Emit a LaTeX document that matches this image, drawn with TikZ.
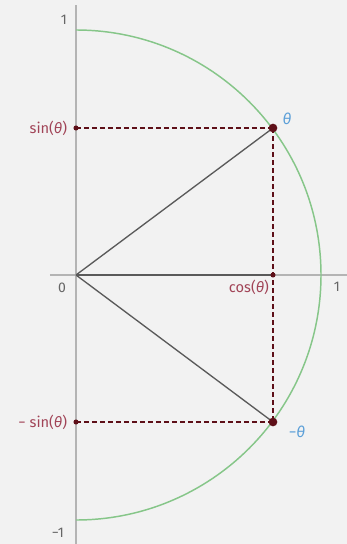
\documentclass[tikz,border=0pt]{standalone}
\usepackage{fontspec}
\setmainfont{Fira Sans}
\usetikzlibrary{calc, positioning, backgrounds}
\definecolor{paper}{HTML}{F2F2F2}
\definecolor{leaf}{HTML}{86C689}
\definecolor{wine}{HTML}{5E0F18}
\definecolor{rosewood}{HTML}{A14457}
\definecolor{sky}{HTML}{5B9FD8}
\definecolor{slate}{HTML}{5A5A5A}
\definecolor{ash}{HTML}{B4B4B4}

\begin{document}
\begin{tikzpicture}[
  x=0.75pt, y=0.75pt,
  axis/.style={draw=ash, line width=0.8pt},
  ray/.style={draw=slate, line width=1pt},
  guide/.style={draw=wine, line width=1.2pt, dash pattern=on 3.4pt off 2.6pt},
  bigdot/.style={circle, fill=wine, inner sep=0pt, minimum size=6.5pt},
  smalldot/.style={circle, fill=wine, inner sep=0pt, minimum size=3.8pt},
  ticklabel/.style={text=black!60, font=\fontsize{10.5}{12}\selectfont},
  trig/.style={text=rosewood, font=\fontsize{11}{13}\selectfont},
  anglelabel/.style={text=sky, font=\fontsize{11.5}{13}\selectfont}
]
  % canvas
  \fill[paper] (-76,-269) rectangle (271,275);
  \useasboundingbox (-76,-269) rectangle (271,275);

  % axes
  \coordinate (ytop) at (0,270);
  \coordinate (ybot) at (0,-269);
  \coordinate (xleft) at (-26,0);
  \coordinate (xright) at (271,0);
  \draw[axis] (ybot) -- (ytop);
  \draw[axis] (xleft) -- (xright);

  % half circle
  \draw[leaf, line width=1.1pt] (0,245) arc[start angle=90, end angle=-90, radius=245];

  % points
  \coordinate (O) at (0,0);
  \coordinate (P) at (197,147);
  \coordinate (Q) at (197,-147);
  \coordinate (C) at (197,0);
  \coordinate (S) at (0,147);
  \coordinate (T) at (0,-147);

  % rays
  \draw[ray] (O) -- (P);
  \draw[ray] (O) -- (Q);
  \draw[ray] (O) -- (C);

  % projections
  \draw[guide] (S) -- (P);
  \draw[guide] (T) -- (Q);
  \draw[guide] (P) -- (Q);

  \node[bigdot] (p) at (P) {};
  \node[bigdot] (q) at (Q) {};
  \node[smalldot] (c) at (C) {};
  \node[smalldot] (s) at (S) {};
  \node[smalldot] (t) at (T) {};

  % labels
  \node[ticklabel] (one-y) at (-12,255) {1};
  \node[ticklabel] (zero) at (-14,-13) {0};
  \node[ticklabel] (one-x) at (261,-12) {1};
  \node[ticklabel] (minus-one) at (-18,-258) {−1};
  \node[trig, left=1pt of s] (sinlab) {sin(\textit{θ})};
  \node[trig, below left=-1pt and -2pt of c] (coslab) {cos(\textit{θ})};
  \node[trig, left=1pt of t] (msinlab) {− sin(\textit{θ})};
  \node[anglelabel] (thetalab) at (211,156) {\textit{θ}};
  \node[anglelabel] (mthetalab) at (221,-157) {−\textit{θ}};
\end{tikzpicture}
\end{document}
